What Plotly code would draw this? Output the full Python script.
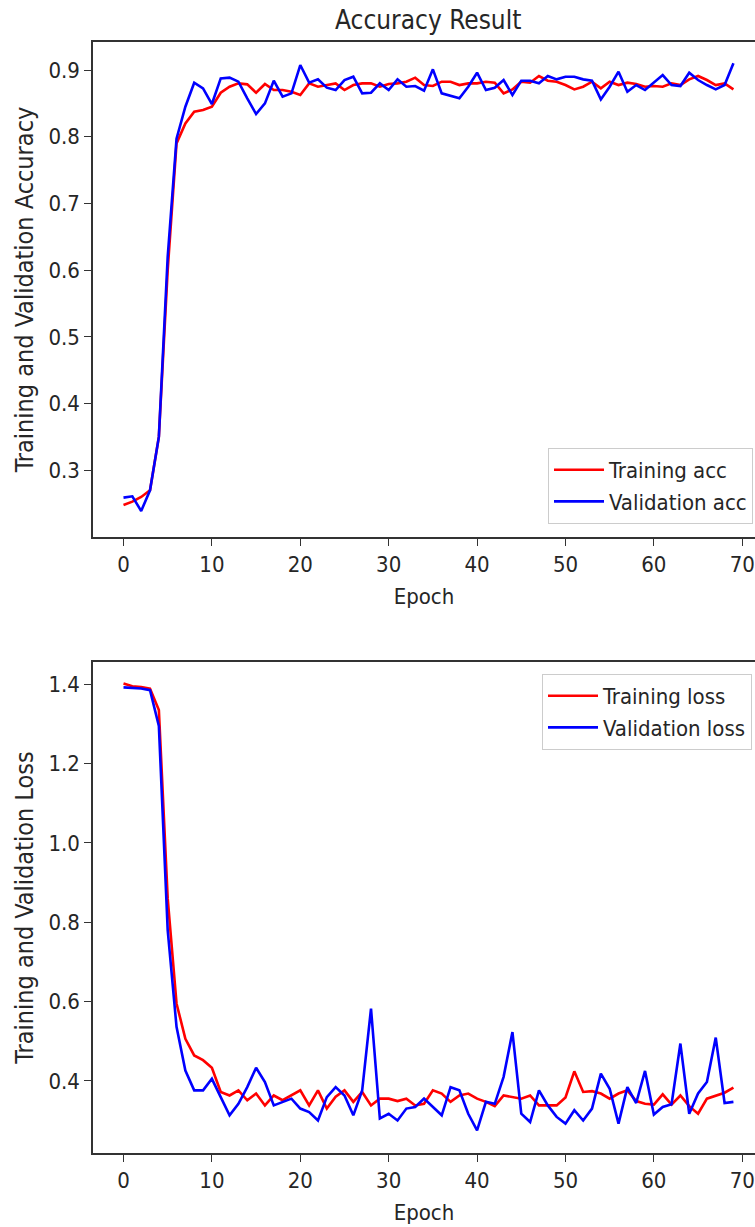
import plotly.graph_objects as go

epochs = list(range(70))

train_acc = [0.248, 0.253, 0.260, 0.270, 0.350, 0.600, 0.790, 0.820, 0.8375, 0.840,
             0.845, 0.866, 0.875, 0.880, 0.8785, 0.866, 0.879, 0.870, 0.870, 0.8675,
             0.8625, 0.880, 0.875, 0.8775, 0.880, 0.870, 0.8775, 0.880, 0.880, 0.875,
             0.879, 0.880, 0.8825, 0.8885, 0.8775, 0.876, 0.8825, 0.8825, 0.8775, 0.880,
             0.880, 0.8825, 0.881, 0.865, 0.871, 0.8825, 0.881, 0.891, 0.884, 0.8825,
             0.8775, 0.871, 0.875, 0.8825, 0.8725, 0.8825, 0.8775, 0.881, 0.879, 0.875,
             0.876, 0.875, 0.880, 0.8775, 0.886, 0.891, 0.885, 0.8775, 0.880, 0.871]

val_acc = [0.259, 0.261, 0.239, 0.270, 0.350, 0.620, 0.797, 0.845, 0.881, 0.8725,
           0.849, 0.8875, 0.8885, 0.8825, 0.8575, 0.834, 0.850, 0.884, 0.860, 0.865,
           0.9075, 0.881, 0.886, 0.8735, 0.870, 0.885, 0.890, 0.865, 0.866, 0.880,
           0.870, 0.886, 0.875, 0.876, 0.869, 0.901, 0.865, 0.861, 0.8575, 0.875,
           0.896, 0.870, 0.8735, 0.885, 0.8625, 0.884, 0.884, 0.880, 0.891, 0.886,
           0.890, 0.890, 0.886, 0.884, 0.856, 0.875, 0.8975, 0.8675, 0.8775, 0.870,
           0.881, 0.8925, 0.8775, 0.876, 0.896, 0.885, 0.8775, 0.871, 0.8775, 0.910]

train_loss = [1.402, 1.395, 1.393, 1.389, 1.335, 0.860, 0.595, 0.506, 0.464, 0.452,
              0.433, 0.372, 0.363, 0.376, 0.351, 0.368, 0.338, 0.363, 0.351, 0.363,
              0.376, 0.338, 0.376, 0.330, 0.360, 0.376, 0.347, 0.372, 0.338, 0.355,
              0.355, 0.349, 0.355, 0.338, 0.342, 0.376, 0.368, 0.347, 0.363, 0.368,
              0.355, 0.347, 0.336, 0.363, 0.359, 0.355, 0.363, 0.338, 0.338, 0.338,
              0.358, 0.424, 0.372, 0.374, 0.368, 0.355, 0.368, 0.376, 0.349, 0.342,
              0.340, 0.366, 0.340, 0.363, 0.336, 0.317, 0.355, 0.363, 0.370, 0.383]

val_loss = [1.392, 1.391, 1.389, 1.385, 1.295, 0.780, 0.536, 0.426, 0.376, 0.376,
            0.405, 0.359, 0.313, 0.342, 0.384, 0.433, 0.397, 0.338, 0.347, 0.355,
            0.330, 0.321, 0.300, 0.359, 0.384, 0.363, 0.313, 0.376, 0.582, 0.305,
            0.317, 0.300, 0.330, 0.334, 0.355, 0.334, 0.313, 0.384, 0.376, 0.317,
            0.275, 0.347, 0.342, 0.410, 0.523, 0.317, 0.296, 0.376, 0.338, 0.309,
            0.292, 0.326, 0.300, 0.330, 0.418, 0.380, 0.292, 0.384, 0.344, 0.425,
            0.315, 0.334, 0.341, 0.494, 0.317, 0.368, 0.397, 0.509, 0.344, 0.347]

acc_ticks = [0.3, 0.4, 0.5, 0.6, 0.7, 0.8, 0.9]
loss_ticks = [0.4, 0.6, 0.8, 1.0, 1.2, 1.4]
epoch_ticks = [0, 10, 20, 30, 40, 50, 60, 70]

W, H = 755, 1227
FONT = "DejaVu Sans Condensed, DejaVu Sans, sans-serif"
TXT = "#262626"
RED = "#ff0000"
BLUE = "#0000ff"

fig = go.Figure()
fig.add_trace(go.Scatter(x=epochs, y=train_acc, mode="lines", name="Training acc",
                         line=dict(color=RED, width=2.6), xaxis="x", yaxis="y",
                         legend="legend", legendgroup="a"))
fig.add_trace(go.Scatter(x=epochs, y=val_acc, mode="lines", name="Validation acc",
                         line=dict(color=BLUE, width=2.6), xaxis="x", yaxis="y",
                         legend="legend", legendgroup="b"))
fig.add_trace(go.Scatter(x=epochs, y=train_loss, mode="lines", name="Training loss",
                         line=dict(color=RED, width=2.6), xaxis="x2", yaxis="y2",
                         legend="legend2", legendgroup="c"))
fig.add_trace(go.Scatter(x=epochs, y=val_loss, mode="lines", name="Validation loss",
                         line=dict(color=BLUE, width=2.6), xaxis="x2", yaxis="y2",
                         legend="legend2", legendgroup="d"))

x0 = 93 / W
top_dom = [(H - 537) / H, (H - 42) / H]
bot_dom = [(H - 1153) / H, (H - 662) / H]
xrange = [-3.45, 71.44]

common_x = dict(range=xrange, tickvals=epoch_ticks, ticks="outside", ticklen=7,
                tickwidth=1.3, tickcolor="#333", showline=True, mirror=True,
                linecolor="#333", linewidth=1.5, showgrid=False, zeroline=False,
                tickfont=dict(family=FONT, size=22, color=TXT),
                title=dict(text="Epoch", font=dict(family=FONT, size=22, color=TXT), standoff=12))
common_y = dict(ticks="outside", ticklen=7, tickwidth=1.3, tickcolor="#333",
                showline=True, mirror=False, linecolor="#333", linewidth=1.5,
                showgrid=False, zeroline=False,
                tickfont=dict(family=FONT, size=22, color=TXT))

leg_common = dict(bgcolor="rgba(255,255,255,0.85)", bordercolor="#cccccc", borderwidth=1,
                  font=dict(family=FONT, size=22, color=TXT), traceorder="normal",
                  tracegroupgap=4, itemwidth=50)

fig.update_layout(
    width=W, height=H,
    margin=dict(l=0, r=0, t=0, b=0),
    paper_bgcolor="white", plot_bgcolor="white",
    font=dict(family=FONT, size=22, color=TXT),
    xaxis=dict(domain=[x0, 1], anchor="y", **common_x),
    yaxis=dict(domain=top_dom, anchor="x", range=[0.2, 0.942], tickvals=acc_ticks,
               tickformat=".1f",
               title=dict(text="Training and Validation Accuracy",
                          font=dict(family=FONT, size=25, color=TXT), standoff=8),
               **common_y),
    xaxis2=dict(domain=[x0, 1], anchor="y2", **common_x),
    yaxis2=dict(domain=bot_dom, anchor="x2", range=[0.218, 1.456], tickvals=loss_ticks,
                tickformat=".1f",
                title=dict(text="Training and Validation Loss",
                           font=dict(family=FONT, size=25, color=TXT), standoff=8),
                **common_y),
    legend=dict(x=753 / W, xanchor="right", y=(H - 524) / H, yanchor="bottom", **leg_common),
    legend2=dict(x=752 / W, xanchor="right", y=(H - 674) / H, yanchor="top", **leg_common),
    annotations=[dict(text="Accuracy Result", x=428 / W, y=(H - 20) / H,
                      xref="paper", yref="paper", showarrow=False,
                      xanchor="center", yanchor="middle",
                      font=dict(family=FONT, size=26, color=TXT))],
    showlegend=True,
)

fig.write_html("out.html")
